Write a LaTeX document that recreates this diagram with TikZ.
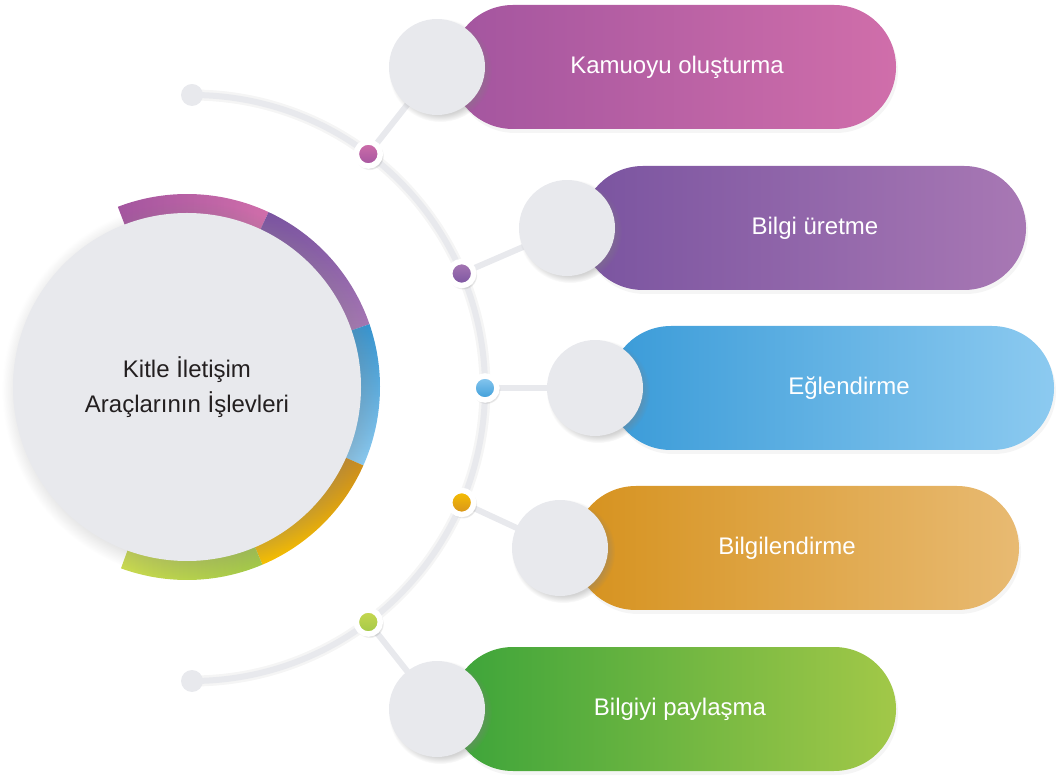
\documentclass[tikz,border=0pt]{standalone}
\usepackage{fontspec}
\setmainfont{Liberation Sans}
\usetikzlibrary{shapes.misc,shadows,backgrounds,calc}
\definecolor{KamL}{RGB}{163,85,159}
\definecolor{KamR}{RGB}{208,110,170}
\definecolor{UreL}{RGB}{122,84,160}
\definecolor{UreR}{RGB}{168,120,180}
\definecolor{EglL}{RGB}{58,155,216}
\definecolor{EglR}{RGB}{140,202,240}
\definecolor{BilL}{RGB}{214,146,30}
\definecolor{BilR}{RGB}{232,186,114}
\definecolor{BilY}{RGB}{247,192,0}
\definecolor{PayL}{RGB}{60,164,58}
\definecolor{PayR}{RGB}{162,200,72}
\definecolor{PayY}{RGB}{200,216,80}
\definecolor{HubGray}{RGB}{232,233,237}
\definecolor{SpineGray}{RGB}{232,233,237}
\definecolor{TextDark}{RGB}{35,31,32}

\begin{document}
\begin{tikzpicture}[x=1pt,y=1pt,
        pill/.style={rounded rectangle,minimum width=445pt,minimum height=124pt,inner sep=0pt,
                     drop shadow={opacity=0.08,shadow xshift=2pt,shadow yshift=-4pt}},
        hub/.style={circle,fill=HubGray,minimum size=96pt,inner sep=0pt,
                    circular drop shadow={opacity=0.35,shadow xshift=3pt,shadow yshift=-3pt,shadow scale=1.08}},
        dot/.style 2 args={circle,draw=white,line width=5.5pt,minimum size=24pt,inner sep=0pt,
                    top color=#1,bottom color=#2,
                    circular drop shadow={opacity=0.25,shadow xshift=1pt,shadow yshift=-1.5pt,shadow scale=1.2}},
        knob/.style={circle,fill=SpineGray,minimum size=22pt,inner sep=0pt},
        spine/.style={draw=SpineGray,line width=6pt},
        link/.style={draw=SpineGray,line width=6pt},
        lbl/.style={text=white,font=\fontsize{24}{28}\selectfont,text height=18pt,text depth=5pt}
      ]
        \useasboundingbox (0,0) rectangle (1062,779);
        % outer ring round the hub
        \coordinate (H0) at (187,392);
        \shade[left color=KamL,right color=KamR] ($(H0)+(111:193)$) arc[start angle=111,end angle=65,radius=193]
            -- ($(H0)+(65:168)$) arc[start angle=65,end angle=111,radius=168] -- cycle;
        \shade[top color=UreL,bottom color=UreR] ($(H0)+(65:193)$) arc[start angle=65,end angle=19,radius=193]
            -- ($(H0)+(19:168)$) arc[start angle=19,end angle=65,radius=168] -- cycle;
        \shade[top color=EglL!95!black,bottom color=EglR] ($(H0)+(19:193)$) arc[start angle=19,end angle=-24,radius=193]
            -- ($(H0)+(-24:168)$) arc[start angle=-24,end angle=19,radius=168] -- cycle;
        \shade[top color=BilL!95!black,bottom color=BilY] ($(H0)+(-24:193)$) arc[start angle=-24,end angle=-67,radius=193]
            -- ($(H0)+(-67:168)$) arc[start angle=-67,end angle=-24,radius=168] -- cycle;
        \shade[left color=PayY,right color=PayR] ($(H0)+(-67:193)$) arc[start angle=-67,end angle=-110,radius=193]
            -- ($(H0)+(-110:168)$) arc[start angle=-110,end angle=-67,radius=168] -- cycle;
        \node[hub,minimum size=348pt,text=TextDark,align=center,font=\fontsize{24}{35}\selectfont] (H) at (H0)
            {Kitle İletişim\\Araçlarının İşlevleri};

        % pills
        \node[pill,left color=KamL,right color=KamR] (K) at (673.5,712) {};
        \node[pill,left color=UreL,right color=UreR] (BU) at (803.5,551) {};
        \node[pill,left color=EglL,right color=EglR] (EG) at (831.5,391) {};
        \node[pill,left color=BilL,right color=BilR] (BL) at (796.5,231) {};
        \node[pill,left color=PayL,right color=PayR] (BP) at (673.5,70) {};
        \node[lbl] at (677,712) {Kamuoyu oluşturma};
        \node[lbl] at (815,551) {Bilgi üretme};
        \node[lbl] at (849,391) {Eğlendirme};
        \node[lbl] at (787,231) {Bilgilendirme};
        \node[lbl] at (680,70) {Bilgiyi paylaşma};

        % grey heads of the pills
        \node[hub] (cK) at (437,712) {};
        \node[hub] (cBU) at (567,551) {};
        \node[hub] (cEG) at (595,391) {};
        \node[hub] (cBL) at (560,231) {};
        \node[hub] (cBP) at (437,70) {};

        % spine with its dots
        \coordinate (S) at (192,391);
        \node[knob] (kT) at ($(S)+(90:293)$) {};
        \node[knob] (kB) at ($(S)+(-90:293)$) {};
        \node[dot={KamR}{KamL}] (dK) at ($(S)+(53:293)$) {};
        \node[dot={UreR}{UreL}] (dBU) at ($(S)+(23:293)$) {};
        \node[dot={EglR}{EglL}] (dEG) at ($(S)+(0:293)$) {};
        \node[dot={BilY}{BilL}] (dBL) at ($(S)+(-23:293)$) {};
        \node[dot={PayY}{PayR}] (dBP) at ($(S)+(-53:293)$) {};
        \begin{scope}[on background layer]
          \draw[black!4,line width=11pt,shift={(2,-2)}] (kT.center) arc[start angle=90,end angle=-90,radius=293];
          \draw[spine] (kT.center) arc[start angle=90,end angle=-90,radius=293];
          \draw[link] (dK.center) -- (cK.center);
          \draw[link] (dBU.center) -- (cBU.center);
          \draw[link] (dEG.center) -- (cEG.center);
          \draw[link] (dBL.center) -- (cBL.center);
          \draw[link] (dBP.center) -- (cBP.center);
        \end{scope}
      \end{tikzpicture}
\end{document}
